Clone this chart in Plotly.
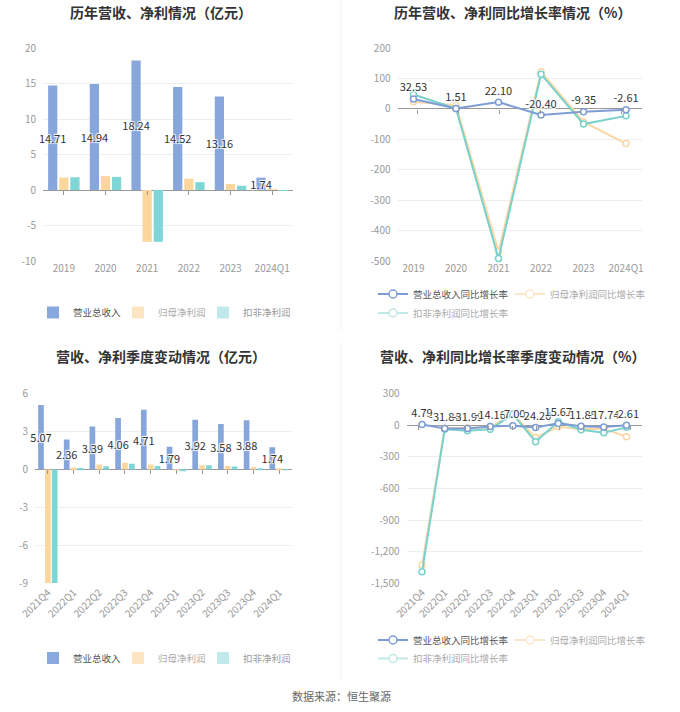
import plotly.graph_objects as go

# ---------------- data ----------------
years = ["2019", "2020", "2021", "2022", "2023", "2024Q1"]
rev_y = [14.71, 14.94, 18.24, 14.52, 13.16, 1.74]
np_y = [1.75, 1.95, -7.30, 1.60, 0.85, 0.03]
dnp_y = [1.80, 1.85, -7.30, 1.10, 0.60, -0.04]

rev_g_y = [32.53, 1.51, 22.10, -20.40, -9.35, -2.61]
np_g_y = [23, 12, -470, 122, -43, -114]
dnp_g_y = [47, 1, -492, 114, -50, -23]

quarters = ["2021Q4", "2022Q1", "2022Q2", "2022Q3", "2022Q4",
            "2023Q1", "2023Q2", "2023Q3", "2023Q4", "2024Q1"]
rev_q = [5.07, 2.36, 3.39, 4.06, 4.71, 1.79, 3.92, 3.58, 3.88, 1.74]
np_q = [-8.95, 0.15, 0.40, 0.52, 0.40, -0.03, 0.34, 0.27, 0.20, 0.03]
dnp_q = [-8.95, 0.12, 0.25, 0.45, 0.28, -0.07, 0.33, 0.24, 0.07, -0.04]

rev_g_q = [4.79, -31.84, -31.99, -14.16, -7.00, -24.20, 15.67, -11.85, -17.74, -2.61]
np_g_q = [-1324, -30, -25, -20, 104, -117, -16, -40, -35, -110]
dnp_g_q = [-1388, -41, -54, -40, 103, -158, 31, -45, -73, -22]

tl_ticks = [-10, -5, 0, 5, 10, 15, 20]
tl_labels = ["-10", "-5", "0", "5", "10", "15", "20"]
tr_ticks = [-500, -400, -300, -200, -100, 0, 100, 200]
tr_labels = ["-500", "-400", "-300", "-200", "-100", "0", "100", "200"]
bl_ticks = [-9, -6, -3, 0, 3, 6]
bl_labels = ["-9", "-6", "-3", "0", "3", "6"]
br_ticks = [-1500, -1200, -900, -600, -300, 0, 300]
br_labels = ["-1,500", "-1,200", "-900", "-600", "-300", "0", "300"]

names_bar = ["营业总收入", "归母净利润", "扣非净利润"]
names_line = ["营业总收入同比增长率", "归母净利润同比增长率", "扣非净利润同比增长率"]

# ---------------- styles ----------------
W, H = 680, 712
OFF = 0  # page body margin is removed by the post script
FONT = "Noto Sans CJK SC, Noto Sans, sans-serif"
C_BLUE = "#87a6dc"
C_ORANGE = "#fcd69c"
C_CYAN = "#7fd6d6"
L_BLUE = "#7e9dd4"
L_ORANGE = "#fbd7a6"
L_CYAN = "#79d1cc"
LEG_BLUE = "#89a8dd"
LEG_ORANGE = "#fde4c3"
LEG_CYAN = "#bfe9ea"
SHADOW = "1px 1px 1px #fff, -1px -1px 1px #fff, 1px -1px 1px #fff, -1px 1px 1px #fff"


def px(x):
    return (x - OFF) / W


def py(y):
    return 1 - (y - OFF) / H


fig = go.Figure()


def add_bars(xs, series, xa, ya, leg):
    cols = [C_BLUE, C_ORANGE, C_CYAN]
    legcols = [LEG_BLUE, LEG_ORANGE, LEG_CYAN]
    txtcols = ["#555", "#aaa", "#999"]
    for i, (vals, nm) in enumerate(zip(series, names_bar)):
        kw = {}
        if i == 0:
            kw = dict(texttemplate="%{y:.2f}", textposition="inside",
                      insidetextanchor="middle", textangle=0,
                      constraintext="none",
                      textfont=dict(size=11, color="#333", family=FONT, shadow=SHADOW))
        fig.add_trace(go.Bar(x=xs, y=vals, name=nm, marker_color=cols[i],
                             marker_line_width=0, xaxis=xa, yaxis=ya,
                             offsetgroup=str(i), showlegend=False,
                             cliponaxis=False, **kw))
    for i, nm in enumerate(names_bar):
        extra = dict(legendwidth=40) if i < 2 else {}
        fig.add_trace(go.Bar(x=[None], y=[None], xaxis=xa, yaxis=ya,
                             offsetgroup=str(i), marker_color=legcols[i],
                             marker_line_width=0,
                             name=f"<span style='color:{txtcols[i]}'>{nm}</span>",
                             legend=leg, showlegend=True, **extra))


def add_lines(xs, rev, npv, dnp, xa, ya, leg_a, leg_b):
    for vals, col in [(npv, L_ORANGE), (dnp, L_CYAN)]:
        fig.add_trace(go.Scatter(x=xs, y=vals, mode="lines+markers",
                                 line=dict(color=col, width=2),
                                 marker=dict(symbol="circle", size=6, color="white",
                                             line=dict(color=col, width=1.5)),
                                 xaxis=xa, yaxis=ya, showlegend=False, cliponaxis=False))
    fig.add_trace(go.Scatter(x=xs, y=rev, mode="lines+markers+text",
                             line=dict(color=L_BLUE, width=2),
                             marker=dict(symbol="circle", size=6, color="white",
                                         line=dict(color=L_BLUE, width=1.5)),
                             texttemplate="%{y:.2f}", textposition="top center",
                             textfont=dict(size=11, color="#333", family=FONT, shadow=SHADOW),
                             xaxis=xa, yaxis=ya, showlegend=False, cliponaxis=False))
    legcols = [L_BLUE, "#fde6c8", "#bfe8e6"]
    txtcols = ["#555", "#aaa", "#aaa"]
    legs = [leg_a, leg_a, leg_b]
    for i, nm in enumerate(names_line):
        extra = dict(legendwidth=92) if i == 0 else {}
        fig.add_trace(go.Scatter(x=[None], y=[None], mode="lines+markers",
                                 line=dict(color=legcols[i], width=2),
                                 marker=dict(symbol="circle", size=8, color="white",
                                             line=dict(color=legcols[i], width=1.5)),
                                 xaxis=xa, yaxis=ya,
                                 name=f"<span style='color:{txtcols[i]}'>{nm}</span>",
                                 legend=legs[i], showlegend=True, **extra))


add_bars(years, [rev_y, np_y, dnp_y], "x", "y", "legend")
add_lines(years, rev_g_y, np_g_y, dnp_g_y, "x2", "y2", "legend2", "legend3")
add_bars(quarters, [rev_q, np_q, dnp_q], "x3", "y3", "legend4")
add_lines(quarters, rev_g_q, np_g_q, dnp_g_q, "x4", "y4", "legend5", "legend6")

# invisible helper traces so the zero-line tick axes know the categories
for cats, vals, xa, ya in [(years, rev_y, "x5", "y"), (years, rev_g_y, "x6", "y2"),
                           (quarters, rev_q, "x7", "y3"), (quarters, rev_g_q, "x8", "y4")]:
    fig.add_trace(go.Scatter(x=cats, y=vals, mode="none", xaxis=xa, yaxis=ya,
                             showlegend=False, hoverinfo="skip"))

tickfont = dict(size=10, color="#999", family=FONT)


def xax(dom, anchor, angle=0):
    return dict(domain=dom, anchor=anchor, type="category", showgrid=False,
                zeroline=False, showline=False, ticks="", tickangle=angle,
                tickfont=tickfont, fixedrange=True, automargin=False)


def yax(dom, anchor, rng, tv, tt):
    return dict(domain=dom, anchor=anchor, range=rng, tickvals=tv, ticktext=tt,
                showgrid=True, gridcolor="#eeeeee", gridwidth=1,
                zeroline=True, zerolinecolor="#999999", zerolinewidth=1,
                showline=False, ticks="", ticklabelstandoff=6,
                tickfont=tickfont, fixedrange=True, automargin=False)


def tickax(dom, base, ydom, yrng, n):
    zero = ydom[0] + (0 - yrng[0]) / (yrng[1] - yrng[0]) * (ydom[1] - ydom[0])
    return dict(domain=dom, overlaying=base, anchor="free", position=zero,
                type="category", range=[-0.5, n - 0.5], showgrid=False,
                zeroline=False, showline=False, ticks="outside", ticklen=4,
                tickwidth=1, tickcolor="#999999", showticklabels=False,
                fixedrange=True, automargin=False)


top_dom = [py(261), py(48)]
bot_dom = [py(583.7), py(393.3)]
tl_dom = [px(43), px(293)]
tr_dom = [px(397.5), px(642)]
bl_dom = [px(35), px(292)]
br_dom = [px(406.5), px(642)]
tl_rng = [-10, 20]
tr_rng = [-500, 200]
bl_rng = [-9, 6]
br_rng = [-1500, 300]

legend_common = dict(orientation="h", bgcolor="rgba(0,0,0,0)", borderwidth=0,
                     font=dict(size=9.5, color="#555", family=FONT),
                     xref="paper", yref="paper", xanchor="left", yanchor="middle",
                     itemclick=False, itemdoubleclick=False)

fig.update_layout(
    width=W, height=H,
    margin=dict(l=0, r=0, t=0, b=0, pad=0, autoexpand=False),
    paper_bgcolor="white", plot_bgcolor="white",
    font=dict(family=FONT),
    hovermode=False,
    barmode="group", bargap=0.2, bargroupgap=0.17,
    xaxis=xax(tl_dom, "y"),
    yaxis=yax(top_dom, "x", tl_rng, tl_ticks, tl_labels),
    xaxis2=xax(tr_dom, "y2"),
    yaxis2=yax(top_dom, "x2", tr_rng, tr_ticks, tr_labels),
    xaxis3=xax(bl_dom, "y3", -45),
    yaxis3=yax(bot_dom, "x3", bl_rng, bl_ticks, bl_labels),
    xaxis4=xax(br_dom, "y4", -45),
    yaxis4=yax(bot_dom, "x4", br_rng, br_ticks, br_labels),
    xaxis5=tickax(tl_dom, "x", top_dom, tl_rng, len(years)),
    xaxis6=tickax(tr_dom, "x2", top_dom, tr_rng, len(years)),
    xaxis7=tickax(bl_dom, "x3", bot_dom, bl_rng, len(quarters)),
    xaxis8=tickax(br_dom, "x4", bot_dom, br_rng, len(quarters)),
    legend=dict(legend_common, x=px(33), y=py(312.5)),
    legend2=dict(legend_common, x=px(373), y=py(294)),
    legend3=dict(legend_common, x=px(373), y=py(313)),
    legend4=dict(legend_common, x=px(33), y=py(658)),
    legend5=dict(legend_common, x=px(373), y=py(640)),
    legend6=dict(legend_common, x=px(373), y=py(658.5)),
    showlegend=True,
)

titles = [
    ("历年营收、净利情况（亿元）", 161, 12),
    ("历年营收、净利同比增长率情况（%）", 512, 12),
    ("营收、净利季度变动情况（亿元）", 161, 355.5),
    ("营收、净利同比增长率季度变动情况（%）", 512, 355.5),
]
for t, x, y in titles:
    fig.add_annotation(text=t, x=px(x), y=py(y), xref="paper", yref="paper",
                       xanchor="center", yanchor="middle", showarrow=False,
                       font=dict(size=14, color="#333", family=FONT, weight="bold"))

fig.add_annotation(text="数据来源：恒生聚源", x=px(341), y=py(696), xref="paper", yref="paper",
                   xanchor="center", yanchor="middle", showarrow=False,
                   font=dict(size=11, color="#666", family=FONT))

for y0, y1 in [(0, 330), (343, 680)]:
    fig.add_shape(type="line", xref="paper", yref="paper", x0=px(341), x1=px(341),
                  y0=py(y0), y1=py(y1), line=dict(color="#f0f0f0", width=1))

fig.write_html("out.html",
               config={"displayModeBar": False, "staticPlot": False},
               post_script="document.body.style.margin='0';document.body.style.overflow='hidden';")
